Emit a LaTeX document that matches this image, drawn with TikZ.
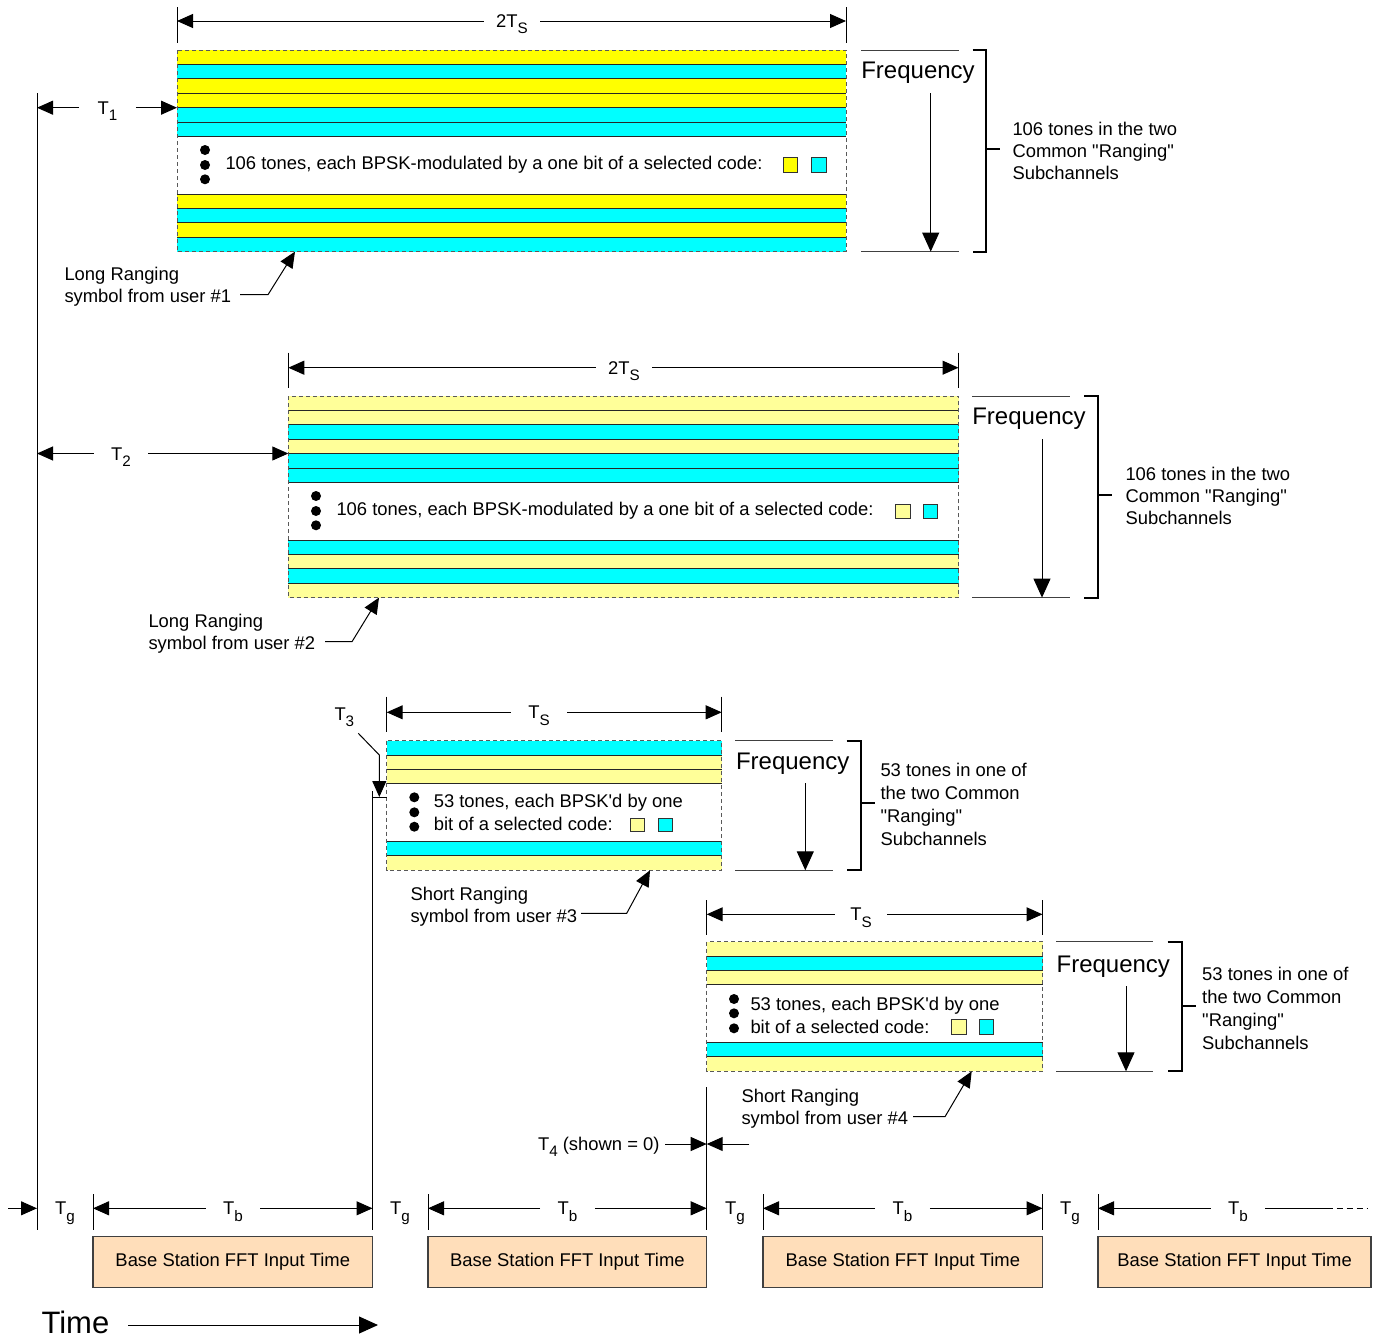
\documentclass[tikz,border=0pt]{standalone}
\usepackage{fontspec}
\setmainfont{Liberation Sans}[Ligatures=TeXOff]
\usetikzlibrary{arrows.meta}
\definecolor{yel}{RGB}{255,255,0}
\definecolor{lyel}{RGB}{255,255,153}
\definecolor{cyn}{RGB}{0,255,255}
\definecolor{peach}{RGB}{255,222,186}
\newcommand\sub[1]{\raisebox{-0.65ex}{\fontsize{7.6}{8}\selectfont #1}}
\newcommand\dq{\symbol{34}}
\newcommand\ap{\symbol{39}}
\newcommand\rangeblock[6]{%
  \foreach \c [count=\i from 0] in {#4}
    \path[fill=\c] (#1,{#3+\i*14.4}) rectangle (#2,{#3+(\i+1)*14.4});
  \foreach \i in {#5}
    \draw[stripeline] (#1,{#3+\i*14.4}) -- (#2,{#3+\i*14.4});
  \draw[blockedge] (#1,#3) rectangle (#2,{#3+#6*14.4});
}
\begin{document}
\begin{tikzpicture}[x=0.5pt,y=-0.5pt,line width=0.5pt,
  arr/.style={-{Triangle[length=8pt,width=7pt]}},
  farr/.style={-{Triangle[length=9.5pt,width=8.5pt]}},
  txt/.style={font=\fontsize{9.2}{11.2}\selectfont,inner sep=0pt},
  txtw/.style={font=\fontsize{9.2}{11.5}\selectfont,inner sep=0pt,align=left,anchor=west},
  dimlbl/.style={font=\fontsize{9.2}{11.2}\selectfont,inner ysep=0pt,inner xsep=8.5pt,anchor=base},
  dimlblw/.style={dimlbl,inner xsep=6pt},
  freq/.style={font=\fontsize{12}{14}\selectfont,inner sep=0pt},
  timel/.style={font=\fontsize{15.5}{18}\selectfont,inner sep=0pt,anchor=base west},
  stripeline/.style={draw=black!85,line width=0.5pt},
  blockedge/.style={draw=black!65,dash pattern=on 2pt off 1.5pt,line width=0.5pt},
  sq/.style={draw=black!80,line width=0.5pt},
  dotc/.style={fill=black},
  brk/.style={line width=0.9pt},
  thinl/.style={draw=black!75,line width=0.5pt},
  fftbox/.style={draw=black!75,fill=peach,line width=0.6pt,minimum height=25.3pt,
    inner sep=0pt,font=\fontsize{9.2}{11.2}\selectfont}
]
\useasboundingbox (0,0) rectangle (1380,1339);

% ---------------- Block 1 ----------------
\rangeblock{177}{846}{50}{yel,cyn,yel,yel,cyn,cyn,none,none,none,none,yel,cyn,yel,cyn}{1,...,6,10,11,12,13}{14}
\foreach \yy in {150,165,179.3} \fill[dotc] (205,\yy) circle (5);
\node[txt,anchor=west] (b1txt) at (225,165) {106 tones, each BPSK-modulated by a one bit of a selected code:};
\filldraw[sq,fill=yel] (783,157.7) rectangle (797.7,172.7);
\filldraw[sq,fill=cyn] (811.7,157.7) rectangle (826.7,172.7);
% dimension 2Ts
\coordinate (d1L) at (177,21); \coordinate (d1R) at (846,21);
\draw (177,7) -- (177,43); \draw (846,7) -- (846,43);
\node[dimlblw] (d1lab) at (512,27.5) {2T\sub{S}};
\draw[arr] (d1lab.west |- d1L) -- (d1L);
\draw[arr] (d1lab.east |- d1R) -- (d1R);
% frequency 1
\draw[thinl] (861,50) -- (959,50); \draw[thinl] (861,251.6) -- (959,251.6);
\node[freq] (f1) at (918,73) {Frequency};
\coordinate (f1s) at (930.7,93); \coordinate (f1e) at (930.7,251.6);
\draw[farr] (f1s) -- (f1e);
\draw[brk] (972.7,50) -- (986,50) -- (986,251.6) -- (972.7,251.6);
\coordinate (k1) at (986,149);
\node[txtw,font=\fontsize{9.2}{11}\selectfont] (k1t) at (1012,151) {106 tones in the two\\Common \dq Ranging\dq\\Subchannels};
\draw[brk] (k1) -- (1000,149);
% T1
\coordinate (t1L) at (37,107.7); \coordinate (t1R) at (177,107.7);
\node[dimlbl,inner xsep=9pt] (t1lab) at (107.5,114.2) {T\sub{1}};
\draw[arr] (t1lab.west |- t1L) -- (t1L);
\draw[arr] (t1lab.east |- t1R) -- (t1R);
% callout 1
\node[txtw,font=\fontsize{9.2}{11}\selectfont] (c1) at (64,287) {Long Ranging\\symbol from user \#1};
\coordinate (c1a) at (240,294.7); \coordinate (c1b) at (268,294.7); \coordinate (c1c) at (295,251.6);
\draw[arr] (c1a) -- (c1b) -- (c1c);

% ---------------- Block 2 ----------------
\rangeblock{288.3}{958.5}{396}{lyel,lyel,cyn,lyel,cyn,cyn,none,none,none,none,cyn,lyel,cyn,lyel}{1,...,6,10,11,12,13}{14}
\foreach \yy in {496,511,525.3} \fill[dotc] (316,\yy) circle (5);
\node[txt,anchor=west] (b2txt) at (336,511) {106 tones, each BPSK-modulated by a one bit of a selected code:};
\filldraw[sq,fill=lyel] (895,504) rectangle (910.7,518.5);
\filldraw[sq,fill=cyn] (923,504) rectangle (937.7,518.5);
\coordinate (d2L) at (288.3,367.7); \coordinate (d2R) at (958.5,367.7);
\draw (288.3,352.7) -- (288.3,388.3); \draw (958.5,352.7) -- (958.5,388.3);
\node[dimlblw] (d2lab) at (624,374.2) {2T\sub{S}};
\draw[arr] (d2lab.west |- d2L) -- (d2L);
\draw[arr] (d2lab.east |- d2R) -- (d2R);
\draw[thinl] (972,396) -- (1070,396); \draw[thinl] (972,597.6) -- (1070,597.6);
\node[freq] (f2) at (1029,419) {Frequency};
\coordinate (f2s) at (1042,439); \coordinate (f2e) at (1042,597.6);
\draw[farr] (f2s) -- (f2e);
\draw[brk] (1084,396) -- (1098,396) -- (1098,597.6) -- (1084,597.6);
\coordinate (k2) at (1098,495);
\node[txtw,font=\fontsize{9.2}{11}\selectfont] (k2t) at (1125,496) {106 tones in the two\\Common \dq Ranging\dq\\Subchannels};
\draw[brk] (k2) -- (1112,495);
\coordinate (t2L) at (37,453.5); \coordinate (t2R) at (288.3,453.5);
\node[dimlbl] (t2lab) at (121,460) {T\sub{2}};
\draw[arr] (t2lab.west |- t2L) -- (t2L);
\draw[arr] (t2lab.east |- t2R) -- (t2R);
\node[txtw,font=\fontsize{9.2}{11}\selectfont] (c2) at (148,634) {Long Ranging\\symbol from user \#2};
\coordinate (c2a) at (325,641.7); \coordinate (c2b) at (352,641.7); \coordinate (c2c) at (379,597.6);
\draw[arr] (c2a) -- (c2b) -- (c2c);

% ---------------- Block 3 ----------------
\rangeblock{386.7}{721.7}{740.7}{cyn,lyel,lyel,none,none,none,none,cyn,lyel}{1,2,3,7,8}{9}
\foreach \yy in {797.3,812.3,826.7} \fill[dotc] (414.3,\yy) circle (5);
\node[txtw] (b3txt) at (433.3,812.3) {53 tones, each BPSK\ap d by one\\bit of a selected code:};
\filldraw[sq,fill=lyel] (630.7,818.3) rectangle (644.3,831);
\filldraw[sq,fill=cyn] (658.3,818.3) rectangle (672.3,831);
\coordinate (d3L) at (386.7,712.3); \coordinate (d3R) at (721.7,712.3);
\draw (386.7,696.7) -- (386.7,731.7); \draw (721.7,696.7) -- (721.7,731.7);
\node[dimlbl] (d3lab) at (539,718.8) {T\sub{S}};
\draw[arr] (d3lab.west |- d3L) -- (d3L);
\draw[arr] (d3lab.east |- d3R) -- (d3R);
\draw[thinl] (735,740.7) -- (833.3,740.7); \draw[thinl] (735,870.3) -- (833.3,870.3);
\node[freq] (f3) at (792.7,763.5) {Frequency};
\coordinate (f3s) at (805.3,783.3); \coordinate (f3e) at (805.3,870.3);
\draw[farr] (f3s) -- (f3e);
\draw[brk] (846.7,740.7) -- (861.3,740.7) -- (861.3,870.3) -- (846.7,870.3);
\coordinate (k3) at (861.3,802.7);
\node[txtw] (k3t) at (880,804.5) {53 tones in one of\\the two Common\\\dq Ranging\dq\\Subchannels};
\draw[brk] (k3) -- (875,802.7);
% T3
\node[txt,anchor=base west] (t3lab) at (334,720) {T\sub{3}};
\coordinate (t3a) at (358.3,733.3); \coordinate (t3b) at (379.3,755); \coordinate (t3c) at (379.3,797);
\draw[arr] (t3a) -- (t3b) -- (t3c);
\coordinate (v3top) at (372.5,791); \coordinate (v3bot) at (372.5,1230);
\draw (v3top) -- (v3bot);
\draw (372.5,797) -- (386.7,797);
\node[txtw,font=\fontsize{9.2}{11.2}\selectfont] (c3) at (410,906.7) {Short Ranging\\symbol from user \#3};
\coordinate (c3a) at (581,913.3); \coordinate (c3b) at (626.7,913.3); \coordinate (c3c) at (650,870.3);
\draw[arr] (c3a) -- (c3b) -- (c3c);

% ---------------- Block 4 ----------------
\rangeblock{706.7}{1042.5}{941.7}{lyel,cyn,lyel,none,none,none,none,cyn,lyel}{1,2,3,7,8}{9}
\foreach \yy in {999,1013.3,1028.3} \fill[dotc] (734,\yy) circle (5);
\node[txtw] (b4txt) at (750,1015.5) {53 tones, each BPSK\ap d by one\\bit of a selected code:};
\filldraw[sq,fill=lyel] (951.7,1019.3) rectangle (966,1034);
\filldraw[sq,fill=cyn] (979.3,1019.3) rectangle (993.3,1034);
\coordinate (d4L) at (706.7,914.3); \coordinate (d4R) at (1042.5,914.3);
\draw (706.7,900) -- (706.7,935); \draw (1042.5,900) -- (1042.5,935);
\node[dimlbl,inner xsep=7.5pt] (d4lab) at (861,920.8) {T\sub{S}};
\draw[arr] (d4lab.west |- d4L) -- (d4L);
\draw[arr] (d4lab.east |- d4R) -- (d4R);
\draw[thinl] (1056,941.7) -- (1153.3,941.7); \draw[thinl] (1056,1071.3) -- (1153.3,1071.3);
\node[freq] (f4) at (1113.3,966.7) {Frequency};
\coordinate (f4s) at (1126,986); \coordinate (f4e) at (1126,1071.3);
\draw[farr] (f4s) -- (f4e);
\draw[brk] (1167.7,941.7) -- (1182,941.7) -- (1182,1071.3) -- (1167.7,1071.3);
\coordinate (k4) at (1182,1006);
\node[txtw] (k4t) at (1201.7,1008.2) {53 tones in one of\\the two Common\\\dq Ranging\dq\\Subchannels};
\draw[brk] (k4) -- (1196,1006);
\node[txtw,font=\fontsize{9.2}{11.2}\selectfont] (c4) at (741,1109) {Short Ranging\\symbol from user \#4};
\coordinate (c4a) at (913,1116.7); \coordinate (c4b) at (945,1116.7); \coordinate (c4c) at (971.7,1071.3);
\draw[arr] (c4a) -- (c4b) -- (c4c);
\coordinate (v4top) at (706.7,1087); \coordinate (v4bot) at (706.7,1230);
\draw (v4top) -- (v4bot);
% T4
\coordinate (t4m) at (706.7,1144);
\node[txt,anchor=base east] (t4lab) at (660,1150.5) {T\sub{4} (shown = 0)};
\coordinate (t4r) at (749.3,1144);
\draw[arr] (665,1144) -- (t4m);
\draw[arr] (t4r) -- (t4m);

% ---------------- left vertical ----------------
\coordinate (v1top) at (37,93); \coordinate (v1bot) at (37,1230);
\draw (v1top) -- (v1bot);

% ---------------- Timeline ----------------
\coordinate (tl0) at (8,1208.3);
\draw[arr] (tl0) -- (37,1208.3);
\foreach \x in {93,428,763,1098,1042.5} \draw (\x,1194) -- (\x,1230);
\foreach \x/\n in {65/g1,400/g2,735/g3,1070/g4}
  \node[txt,anchor=base] (\n) at (\x,1214.8) {T\sub{g}};
% Tb arrows
\node[dimlbl] (tb1) at (233,1214.8) {T\sub{b}};
\draw[arr] (tb1.west |- 93,1208.3) -- (93,1208.3);
\draw[arr] (tb1.east |- 372.5,1208.3) -- (372.5,1208.3);
\node[dimlbl] (tb2) at (567.5,1214.8) {T\sub{b}};
\draw[arr] (tb2.west |- 428,1208.3) -- (428,1208.3);
\draw[arr] (tb2.east |- 706.7,1208.3) -- (706.7,1208.3);
\node[dimlbl] (tb3) at (902.5,1214.8) {T\sub{b}};
\draw[arr] (tb3.west |- 763,1208.3) -- (763,1208.3);
\draw[arr] (tb3.east |- 1042.5,1208.3) -- (1042.5,1208.3);
\node[dimlbl] (tb4) at (1238,1214.8) {T\sub{b}};
\draw[arr] (tb4.west |- 1098,1208.3) -- (1098,1208.3);
\draw (tb4.east |- 1326.7,1208.3) -- (1326.7,1208.3);
\draw[dash pattern=on 3pt off 2pt] (1326.7,1208.3) -- (1367,1208.3);
% FFT boxes
\node[fftbox,minimum width=139.75pt] (fft1) at (232.75,1262) {Base Station FFT Input Time};
\node[fftbox,minimum width=139.35pt] (fft2) at (567.35,1262) {Base Station FFT Input Time};
\node[fftbox,minimum width=139.75pt] (fft3) at (902.75,1262) {Base Station FFT Input Time};
\node[fftbox,minimum width=136.5pt] (fft4) at (1234.5,1262) {Base Station FFT Input Time};
% Time
\node[timel] (time) at (41,1333.5) {Time};
\coordinate (tia) at (128,1325); \coordinate (tib) at (378,1325);
\draw[farr] (tia) -- (tib);
\end{tikzpicture}
\end{document}
